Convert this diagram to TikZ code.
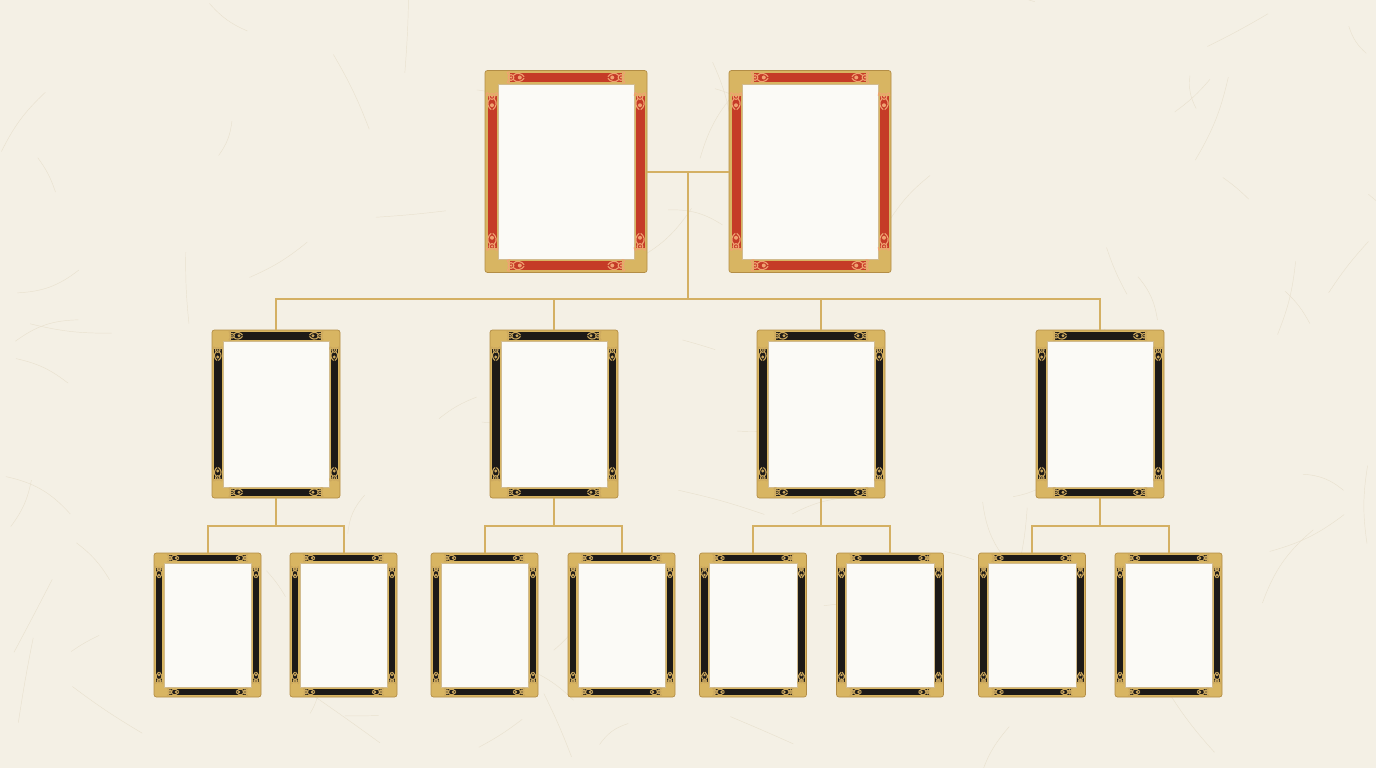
\documentclass[tikz,border=0pt]{standalone}
\usetikzlibrary{calc}
\definecolor{paper}{HTML}{F4F0E5}
\definecolor{gold}{HTML}{D8B562}
\definecolor{golddk}{HTML}{B38D45}
\definecolor{goldline}{HTML}{D4B063}
\definecolor{lacquer}{HTML}{C53B27}
\definecolor{redorn}{HTML}{F0A271}
\definecolor{ebony}{HTML}{1D1A17}
\definecolor{blackorn}{HTML}{CDA95F}
\definecolor{card}{HTML}{FBFAF6}
\definecolor{fibre}{HTML}{E9E1CF}
\tikzset{
 framebox/.style={rectangle, rounded corners=2.5pt, fill=gold, draw=golddk, line width=0.7pt, inner sep=0pt, outer sep=0pt},
 topframe/.style={framebox, minimum width=162pt, minimum height=202pt},
 midframe/.style={framebox, minimum width=128pt, minimum height=168pt},
 lowframe/.style={framebox, minimum width=107pt, minimum height=144pt},
 conn/.style={draw=goldline, line width=2pt},
 flourish/.pic={
   \draw[line width=1.1pt] (0,0) circle (2.3pt);
   \fill (0,0) circle (1pt);
   \draw[line width=1.1pt] (1.8pt,1.6pt) .. controls (4.5pt,4.6pt) and (8.5pt,3.4pt) .. (10.5pt,0.6pt);
   \draw[line width=1.1pt] (1.8pt,-1.6pt) .. controls (4.5pt,-4.6pt) and (8.5pt,-3.4pt) .. (10.5pt,-0.6pt);
   \fill (7pt,0) circle (1.6pt);
   \draw[line width=1pt] (-1.6pt,1.8pt) .. controls (-3.6pt,4.2pt) .. (-0.5pt,4.6pt);
   \draw[line width=1pt] (-1.6pt,-1.8pt) .. controls (-3.6pt,-4.2pt) .. (-0.5pt,-4.6pt);
 }
}
% #1 node, #2 band colour, #3 ornament colour, #4 edge, #5 band width, #6 inner gold line, #7 corner size, #8 ornament scale
\newcommand\framedeco[8]{%
 \fill[#2] ($(#1.north west)+(#4pt,-#4pt)$) rectangle ($(#1.south east)+(-#4pt,#4pt)$);
 \fill[gold] ($(#1.north west)+(#4pt,-#4pt)$) rectangle ($(#1.north west)+(#7pt,-#7pt)$);
 \fill[gold] ($(#1.north east)+(-#4pt,-#4pt)$) rectangle ($(#1.north east)+(-#7pt,-#7pt)$);
 \fill[gold] ($(#1.south west)+(#4pt,#4pt)$) rectangle ($(#1.south west)+(#7pt,#7pt)$);
 \fill[gold] ($(#1.south east)+(-#4pt,#4pt)$) rectangle ($(#1.south east)+(-#7pt,#7pt)$);
 \fill[gold] ($(#1.north west)+(#4pt+#5pt,-#4pt-#5pt)$) rectangle ($(#1.south east)+(-#4pt-#5pt,#4pt+#5pt)$);
 \fill[card] ($(#1.north west)+(#4pt+#5pt+#6pt,-#4pt-#5pt-#6pt)$) rectangle ($(#1.south east)+(-#4pt-#5pt-#6pt,#4pt+#5pt+#6pt)$);
 \draw[golddk!60, line width=0.3pt] ($(#1.north west)+(#4pt+#5pt+#6pt,-#4pt-#5pt-#6pt)$) rectangle ($(#1.south east)+(-#4pt-#5pt-#6pt,#4pt+#5pt+#6pt)$);
 % ornaments
 \path ($(#1.north west)+(#7pt+1pt,-#4pt-0.5*#5pt)$) pic[color=#3,scale=#8] {flourish};
 \path ($(#1.north east)+(-#7pt-1pt,-#4pt-0.5*#5pt)$) pic[color=#3,scale=#8,rotate=180] {flourish};
 \path ($(#1.south west)+(#7pt+1pt,#4pt+0.5*#5pt)$) pic[color=#3,scale=#8] {flourish};
 \path ($(#1.south east)+(-#7pt-1pt,#4pt+0.5*#5pt)$) pic[color=#3,scale=#8,rotate=180] {flourish};
 \path ($(#1.north west)+(#4pt+0.5*#5pt,-#7pt-1pt)$) pic[color=#3,scale=#8,rotate=-90] {flourish};
 \path ($(#1.south west)+(#4pt+0.5*#5pt,#7pt+1pt)$) pic[color=#3,scale=#8,rotate=90] {flourish};
 \path ($(#1.north east)+(-#4pt-0.5*#5pt,-#7pt-1pt)$) pic[color=#3,scale=#8,rotate=-90] {flourish};
 \path ($(#1.south east)+(-#4pt-0.5*#5pt,#7pt+1pt)$) pic[color=#3,scale=#8,rotate=90] {flourish};
}
\begin{document}
\begin{tikzpicture}[x=1pt,y=-1pt]
\useasboundingbox (0,0) rectangle (1376,768);
\fill[paper] (0,0) rectangle (1376,768);
% paper fibres
\pgfmathsetseed{23}
\foreach \i in {1,...,80}{
  \pgfmathsetmacro\xa{rnd*1376}
  \pgfmathsetmacro\ya{rnd*768}
  \pgfmathsetmacro\ang{rnd*360}
  \pgfmathsetmacro\len{30+rnd*60}
  \pgfmathsetmacro\bend{(rnd-0.5)*40}
  \draw[fibre, line width=0.45pt] (\xa,\ya) to[bend left=\bend] ++(\ang:\len);
}
% nodes
\node[topframe] (p1) at (566,171.5) {};
\node[topframe] (p2) at (810,171.5) {};
\node[midframe] (m1) at (276,414) {};
\node[midframe] (m2) at (554,414) {};
\node[midframe] (m3) at (821,414) {};
\node[midframe] (m4) at (1100,414) {};
\node[lowframe] (c1) at (207.5,625) {};
\node[lowframe] (c2) at (343.5,625) {};
\node[lowframe] (c3) at (484.5,625) {};
\node[lowframe] (c4) at (621.5,625) {};
\node[lowframe] (c5) at (753,625) {};
\node[lowframe] (c6) at (890,625) {};
\node[lowframe] (c7) at (1032,625) {};
\node[lowframe] (c8) at (1168.5,625) {};
% decorations
\framedeco{p1}{lacquer}{redorn}{2.5}{9}{1.8}{25}{1.25}
\framedeco{p2}{lacquer}{redorn}{2.5}{9}{1.8}{25}{1.25}
\foreach \n in {m1,m2,m3,m4}{\framedeco{\n}{ebony}{blackorn}{2}{7.5}{1.6}{19}{1.0}}
\foreach \n in {c1,c2,c3,c4,c5,c6,c7,c8}{\framedeco{\n}{ebony}{blackorn}{1.8}{6.5}{1.4}{15}{0.85}}
% connectors
\coordinate (busy) at (0,299);
\coordinate (sy) at (0,526);
\draw[conn] (p1.east) -- (p2.west);
\coordinate (j0) at ($(p1.east)!0.5!(p2.west)$);
\draw[conn] (j0) -- (j0 |- busy);
\draw[conn] (m1.north) |- (m4.north |- busy) -- (m4.north);
\draw[conn] (m2.north) -- (m2.north |- busy);
\draw[conn] (m3.north) -- (m3.north |- busy);
\draw[conn] (c1.north) |- (c2.north |- sy) -- (c2.north);
\draw[conn] (m1.south) -- (m1.south |- sy);
\draw[conn] (c3.north) |- (c4.north |- sy) -- (c4.north);
\draw[conn] (m2.south) -- (m2.south |- sy);
\draw[conn] (c5.north) |- (c6.north |- sy) -- (c6.north);
\draw[conn] (m3.south) -- (m3.south |- sy);
\draw[conn] (c7.north) |- (c8.north |- sy) -- (c8.north);
\draw[conn] (m4.south) -- (m4.south |- sy);
\end{tikzpicture}
\end{document}
